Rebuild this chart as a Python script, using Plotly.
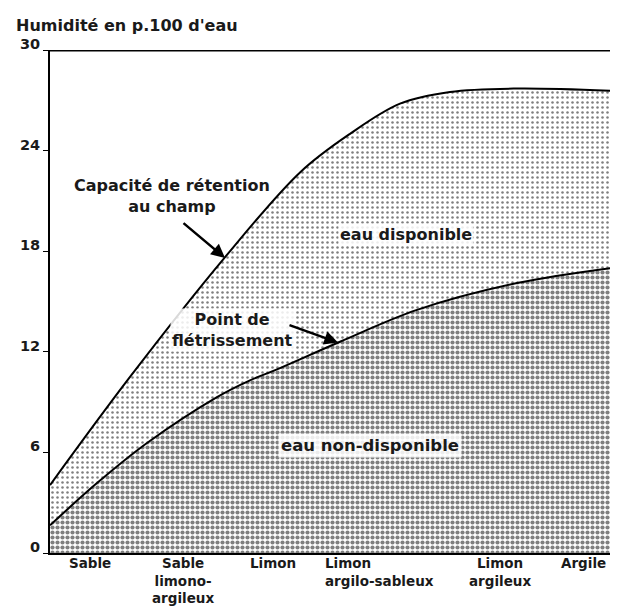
import plotly.graph_objects as go

# Position along the texture gradient (arbitrary units)
retention_x = [0.0, 0.80, 1.73, 2.50, 3.00, 3.50, 4.00, 4.67, 5.68]
retention_y = [4.05, 10.5, 17.5, 22.7, 25.0, 26.8, 27.5, 27.7, 27.55]

wilting_x = [0.0, 0.47, 0.97, 1.67, 2.00, 2.27, 2.90, 3.67, 4.67, 5.68]
wilting_y = [1.65, 4.17, 6.56, 9.3, 10.3, 10.95, 12.6, 14.5, 16.1, 17.05]

category_pos = [0.40, 1.33, 2.23, 2.73, 4.50, 5.33]
category_labels = ["Sable", "Sable<br>limono-<br>argileux", "Limon",
                   "Limon<br>argilo-sableux", "Limon<br>argileux", "Argile"]
category_anchor = ["center", "center", "center", "left", "center", "center"]

y_ticks = [0, 6, 12, 18, 24, 30]

FONT = "DejaVu Sans"
TXT = "#1a1a1a"

fig = go.Figure()

fig.add_trace(go.Scatter(
    x=wilting_x, y=wilting_y, mode="lines",
    line=dict(color="black", width=2, shape="spline", smoothing=1.0),
    fill="tozeroy", fillcolor="rgba(0,0,0,0)",
    fillpattern=dict(shape=".", fgcolor="black", bgcolor="white",
                     size=5, solidity=0.55),
    hoverinfo="skip", showlegend=False))

fig.add_trace(go.Scatter(
    x=retention_x, y=retention_y, mode="lines",
    line=dict(color="black", width=2, shape="spline", smoothing=1.0),
    fill="tonexty", fillcolor="rgba(0,0,0,0)",
    fillpattern=dict(shape=".", fgcolor="black", bgcolor="white",
                     size=5, solidity=0.2),
    hoverinfo="skip", showlegend=False))

annotations = []
for pos, lab, anc in zip(category_pos, category_labels, category_anchor):
    annotations.append(dict(
        x=pos, xref="x", y=0, yref="paper", yanchor="top", yshift=0,
        xanchor=anc, align=anc, text=lab, showarrow=False,
        font=dict(family=FONT, size=13.5, color=TXT, weight="bold")))

annotations += [
    dict(x=0, xref="paper", xanchor="left", xshift=-36,
         y=1, yref="paper", yanchor="middle", yshift=25,
         text="Humidité en p.100 d'eau", showarrow=False,
         font=dict(family=FONT, size=16, color=TXT, weight="bold")),
    dict(x=1.22, y=21.3, text="Capacité de rétention<br>au champ",
         showarrow=False, align="center",
         font=dict(family=FONT, size=16, color=TXT, weight="bold")),
    dict(x=1.75, y=17.6, ax=-43, ay=-36, text="", showarrow=True,
         arrowhead=2, arrowsize=1.1, arrowwidth=2.5, arrowcolor="black"),
    dict(x=1.82, y=13.33, text="Point de<br>flétrissement",
         showarrow=False, align="center", bgcolor="rgba(255,255,255,0.85)",
         font=dict(family=FONT, size=16, color=TXT, weight="bold")),
    dict(x=2.88, y=12.55, ax=-50, ay=-18, text="", showarrow=True,
         arrowhead=2, arrowsize=1.1, arrowwidth=2.5, arrowcolor="black"),
    dict(x=3.56, y=19.0, text="eau disponible", showarrow=False,
         bgcolor="rgba(255,255,255,0.85)",
         font=dict(family=FONT, size=16, color=TXT, weight="bold")),
    dict(x=3.2, y=6.39, text="eau non-disponible", showarrow=False,
         bgcolor="rgba(255,255,255,0.85)", borderpad=2,
         font=dict(family=FONT, size=16.5, color=TXT, weight="bold")),
]

fig.update_layout(
    width=602, height=598,
    margin=dict(l=42, r=0, t=42, b=53),
    paper_bgcolor="white", plot_bgcolor="white",
    annotations=annotations,
    shapes=[dict(type="line", xref="paper", x0=0, x1=1, yref="y", y0=30, y1=30,
                 line=dict(color="black", width=3))],
)

fig.update_xaxes(range=[0, 5.60], showgrid=False, zeroline=False,
                 showline=True, linecolor="black", linewidth=2,
                 showticklabels=False, ticks="")
fig.update_yaxes(range=[0, 30], tickvals=y_ticks,
                 ticktext=[str(v) for v in y_ticks],
                 showgrid=False, zeroline=False,
                 showline=True, linecolor="black", linewidth=2,
                 ticks="outside", ticklen=5, tickcolor="black", tickwidth=1,
                 ticklabelshift=-6,
                 tickfont=dict(family=FONT, size=14.5, color=TXT, weight="bold"))

fig.write_html("out.html")
